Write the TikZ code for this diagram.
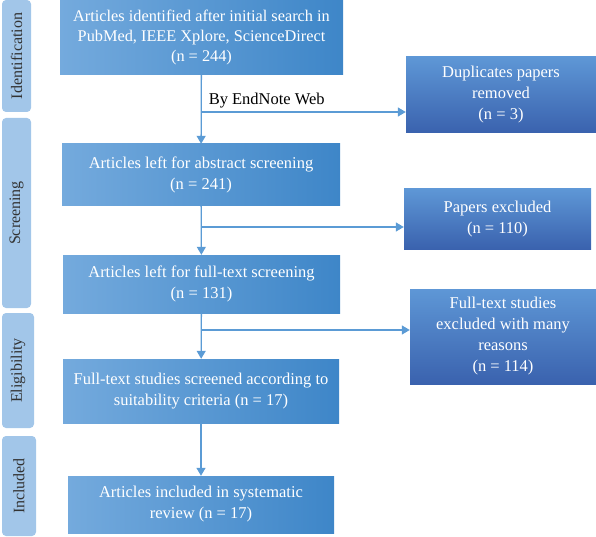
\documentclass[tikz,border=0pt]{standalone}
\usepackage{fontspec}
\setmainfont{Liberation Serif}
\usetikzlibrary{arrows.meta, positioning}
\definecolor{mainleft}{HTML}{74AADD}
\definecolor{mainright}{HTML}{3E86C8}
\definecolor{sidetop}{HTML}{5E97D6}
\definecolor{sidebottom}{HTML}{3A62AE}
\definecolor{phasefill}{HTML}{A2C6E9}
\definecolor{linkblue}{HTML}{5B9BD5}

\begin{document}
\begin{tikzpicture}[x=1pt, y=1pt,
    phase/.style={rectangle, rounded corners=4pt, fill=phasefill, text=black!80, font=\fontsize{16}{18}\selectfont, rotate=90, inner sep=0pt},
    mainbox/.style={rectangle, shading=axis, left color=mainleft, right color=mainright, shading angle=90, text=white, align=center, font=\fontsize{16.5}{21}\selectfont, inner sep=0pt},
    sidebox/.style={rectangle, shading=axis, top color=sidetop, bottom color=sidebottom, text=white, align=center, font=\fontsize{16.5}{21}\selectfont, inner sep=0pt},
    arrow/.style={line width=1.3pt, draw=linkblue, -{Triangle[length=8pt, width=9pt]}},
]
\useasboundingbox (0,0) rectangle (596,536);

% Phase bars
\node (identification) [phase, minimum width=112, minimum height=29] at (16.5,480) {Identification};
\node (screening) [phase, minimum width=190, minimum height=29] at (16.5,323) {Screening};
\node (eligibility) [phase, minimum width=115, minimum height=32] at (18,165.5) {Eligibility};
\node (included) [phase, minimum width=100, minimum height=34] at (19,50) {Included};

% Main column
\node (identified) [mainbox, minimum width=283, minimum height=75, font=\fontsize{16.3}{20}\selectfont] at (201.5,498.5) {Articles identified after initial search in\\PubMed, IEEE Xplore, ScienceDirect\\(n = 244)};
\node (abstract) [mainbox, minimum width=278, minimum height=62] at (201,361) {Articles left for abstract screening\\(n = 241)};
\node (fulltext) [mainbox, minimum width=277, minimum height=58] at (201.5,252) {Articles left for full-text screening\\(n = 131)};
\node (suitable) [mainbox, minimum width=276, minimum height=64] at (201,145) {Full-text studies screened according to\\suitability criteria (n = 17)};
\node (review) [mainbox, minimum width=266, minimum height=57] at (201,31.5) {Articles included in systematic\\review (n = 17)};

% Excluded column
\node (duplicates) [sidebox, minimum width=190, minimum height=76] at (501,441) {Duplicates papers\\removed\\(n = 3)};
\node (excluded) [sidebox, minimum width=187, minimum height=60] at (497.5,317) {Papers excluded\\(n = 110)};
\node (reasons) [sidebox, minimum width=186, minimum height=95] at (503,199.5) {Full-text studies\\excluded with many\\reasons\\(n = 114)};

% Branch points
\coordinate (split1) at (201,424);
\coordinate (split2) at (201,309);
\coordinate (split3) at (201,206);

% Arrows and paths
\draw [arrow] (identified) -- (abstract);
\draw [arrow] (abstract) -- (fulltext);
\draw [arrow] (fulltext) -- (suitable);
\draw [arrow] (suitable) -- (review);
\draw [arrow] (split1) -- node[pos=0.02, anchor=south west, text=black, font=\fontsize{16.5}{18}\selectfont, inner sep=3pt] {By EndNote Web} (split1 -| duplicates.west);
\draw [arrow] (split2) -- (split2 -| excluded.west);
\draw [arrow] (split3) -- (split3 -| reasons.west);

\end{tikzpicture}
\end{document}
